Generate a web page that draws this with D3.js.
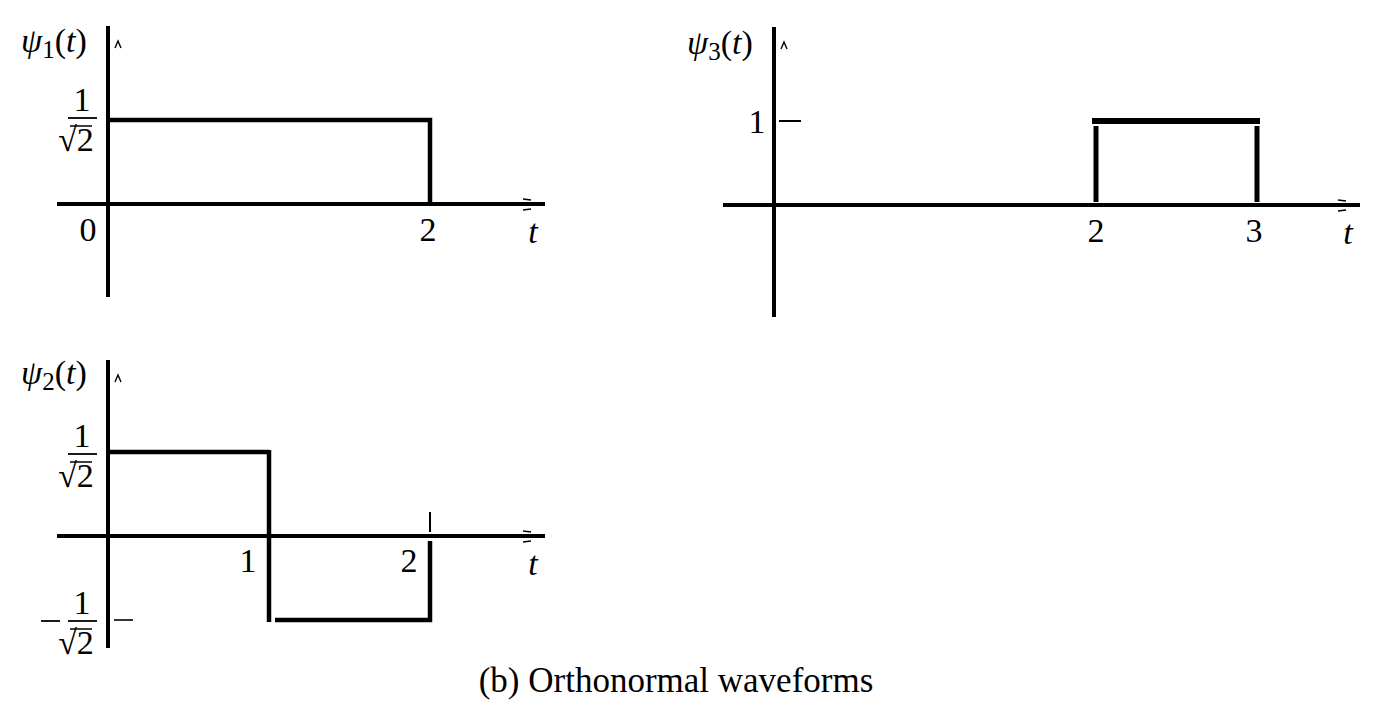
<!DOCTYPE html>
<html><head><meta charset="utf-8">
<script src="https://cdn.jsdelivr.net/npm/d3@7"></script>
<style>html,body{margin:0;padding:0;background:#fff;}svg{display:block;}</style>
</head><body>
<script>
// ---- data ----
const psi1Points = [{t:0, v:0.7071}, {t:2, v:0.7071}, {t:2, v:0}];
const psi1Ticks = ["0", "2"];
const psi2High = [{t:0, v:0.7071}, {t:1, v:0.7071}];
const psi2Low = [{t:1, v:-0.7071}, {t:2, v:-0.7071}];
const psi2Edges = [1, 2];
const psi2Ticks = ["1", "2"];
const psi3Level = 1;
const psi3Start = 2, psi3End = 3;
const psi3Ticks = ["2", "3"];
const caption = "(b) Orthonormal waveforms";

const W = 1394, H = 716;
const svg = d3.select("body").append("svg").attr("width", W).attr("height", H);
const serif = "'Liberation Serif', 'Times New Roman', serif";
const FS = 34;

function panel(o) {
  const g = svg.append("g");
  const x = d3.scaleLinear().domain([0, 1]).range([o.x0, o.x0 + o.unit]);
  const y = d3.scaleLinear().domain([0, 1]).range([o.y0, o.y0 - o.vunit]);
  g.append("line").attr("x1", o.axL).attr("x2", o.axR).attr("y1", y(0)).attr("y2", y(0))
    .attr("stroke", "#000").attr("stroke-width", 4);
  g.append("line").attr("x1", x(0)).attr("x2", x(0)).attr("y1", o.ayT).attr("y2", o.ayB)
    .attr("stroke", "#000").attr("stroke-width", 4);
  g.append("path").attr("d", `M${x(0)+7},${o.ayT+22} l3,-7 l3,7`).attr("fill","none").attr("stroke","#000").attr("stroke-width",1.4);
  g.append("path").attr("d", `M${o.axR-22},${y(0)-5} l8,1 M${o.axR-22},${y(0)+6} l8,-1`).attr("fill","none").attr("stroke","#000").attr("stroke-width",1.4);
  const lab = g.append("text").attr("x", o.labX).attr("y", o.labY)
    .attr("font-family", serif).attr("font-size", FS);
  lab.append("tspan").attr("font-style", "italic").text("ψ");
  lab.append("tspan").attr("font-size", 25).attr("dy", 6).text(o.n);
  lab.append("tspan").attr("dy", -6).text("(");
  lab.append("tspan").attr("font-style", "italic").text("t");
  lab.append("tspan").text(")");
  g.append("text").attr("x", o.axR - 12).attr("y", y(0) + 39).attr("text-anchor", "middle")
    .attr("font-family", serif).attr("font-size", FS).attr("font-style", "italic").text("t");
  return {g, x, y};
}

function frac(g, cx, cyBar, neg) {
  g.append("text").attr("x", cx).attr("y", cyBar - 7).attr("text-anchor", "middle")
    .attr("font-family", serif).attr("font-size", FS).text("1");
  g.append("line").attr("x1", cx - 14).attr("x2", cx + 15).attr("y1", cyBar).attr("y2", cyBar)
    .attr("stroke", "#000").attr("stroke-width", 1.8);
  g.append("text").attr("x", cx - 6).attr("y", cyBar + 33).attr("text-anchor", "middle")
    .attr("font-family", serif).attr("font-size", FS).text("√2");
  g.append("line").attr("x1", cx - 12).attr("x2", cx + 10).attr("y1", cyBar + 8).attr("y2", cyBar + 8)
    .attr("stroke", "#000").attr("stroke-width", 1.5);
  if (neg) {
    g.append("line").attr("x1", cx - 41).attr("x2", cx - 22).attr("y1", cyBar).attr("y2", cyBar)
      .attr("stroke", "#000").attr("stroke-width", 1.8);
  }
}

const line = (x, y) => d3.line().x(d => x(d.t)).y(d => y(d.v));

// ---- panel 1 ----
{
  const p = panel({n:"1", x0:108, unit:161, y0:204, vunit:118.8, axL:57, axR:545, ayT:26, ayB:297, labX:21, labY:52});
  p.g.append("path").datum(psi1Points).attr("d", line(p.x, p.y)).attr("fill","none")
    .attr("stroke","#000").attr("stroke-width",4.5);
  p.g.selectAll("text.tk").data(psi1Ticks).join("text").attr("class","tk")
    .attr("x", (d,i) => i === 0 ? p.x(0) - 20 : p.x(+d) - 2).attr("y", p.y(0) + 37)
    .attr("text-anchor","middle").attr("font-family", serif).attr("font-size", FS).text(d => d);
  frac(p.g, 82, p.y(0.7071) - 2, false);
}

// ---- panel 2 ----
{
  const p = panel({n:"2", x0:108, unit:161, y0:536, vunit:118.8, axL:57, axR:545, ayT:360, ayB:648, labX:21, labY:384});
  p.g.append("path").datum(psi2High).attr("d", line(p.x, p.y)).attr("fill","none")
    .attr("stroke","#000").attr("stroke-width",4.5);
  p.g.append("line").attr("x1", p.x(psi2Edges[0])).attr("x2", p.x(psi2Edges[0]))
    .attr("y1", p.y(0.7071) - 2).attr("y2", p.y(-0.7071) + 2).attr("stroke","#000").attr("stroke-width",4.5);
  p.g.append("path").datum(psi2Low).attr("d", d3.line().x((d,i) => p.x(d.t) + (i===0 ? 6 : 2)).y(d => p.y(d.v)))
    .attr("fill","none").attr("stroke","#000").attr("stroke-width",4.5);
  p.g.append("line").attr("x1", p.x(psi2Edges[1])).attr("x2", p.x(psi2Edges[1]))
    .attr("y1", p.y(0) + 5).attr("y2", p.y(-0.7071) + 2).attr("stroke","#000").attr("stroke-width",4.5);
  p.g.append("line").attr("x1", p.x(psi2Edges[1])).attr("x2", p.x(psi2Edges[1]))
    .attr("y1", p.y(0) - 24).attr("y2", p.y(0) - 4).attr("stroke","#000").attr("stroke-width",2);
  p.g.append("line").attr("x1", p.x(0) + 6).attr("x2", p.x(0) + 25)
    .attr("y1", p.y(-0.7071)).attr("y2", p.y(-0.7071)).attr("stroke","#000").attr("stroke-width",1.6);
  p.g.selectAll("text.tk").data(psi2Ticks).join("text").attr("class","tk")
    .attr("x", d => p.x(+d) - 21).attr("y", p.y(0) + 36)
    .attr("text-anchor","middle").attr("font-family", serif).attr("font-size", FS).text(d => d);
  frac(p.g, 82, p.y(0.7071) + 2, false);
  frac(p.g, 82, p.y(-0.7071) + 1, true);
}

// ---- panel 3 ----
{
  const p = panel({n:"3", x0:774, unit:161, y0:205, vunit:84, axL:723, axR:1360, ayT:27, ayB:317, labX:687, labY:54});
  p.g.append("line").attr("x1", p.x(psi3Start) - 4).attr("x2", p.x(psi3End) + 3)
    .attr("y1", p.y(psi3Level)).attr("y2", p.y(psi3Level)).attr("stroke","#000").attr("stroke-width",6);
  [psi3Start, psi3End].forEach(t => {
    p.g.append("line").attr("x1", p.x(t)).attr("x2", p.x(t))
      .attr("y1", p.y(psi3Level) + 5).attr("y2", p.y(0) - 3).attr("stroke","#000").attr("stroke-width",5);
  });
  p.g.append("line").attr("x1", p.x(0) + 5).attr("x2", p.x(0) + 27)
    .attr("y1", p.y(psi3Level)).attr("y2", p.y(psi3Level)).attr("stroke","#000").attr("stroke-width",2);
  p.g.append("text").attr("x", p.x(0) - 17).attr("y", p.y(psi3Level) + 12).attr("text-anchor","middle")
    .attr("font-family", serif).attr("font-size", FS).text("1");
  p.g.selectAll("text.tk").data(psi3Ticks).join("text").attr("class","tk")
    .attr("x", d => p.x(+d) - (+d === 3 ? 3 : 0)).attr("y", p.y(0) + 37)
    .attr("text-anchor","middle").attr("font-family", serif).attr("font-size", FS).text(d => d);
}

svg.append("text").attr("x", 676).attr("y", 692).attr("text-anchor","middle")
  .attr("font-family", serif).attr("font-size", 35).text(caption);
</script>
</body></html>
